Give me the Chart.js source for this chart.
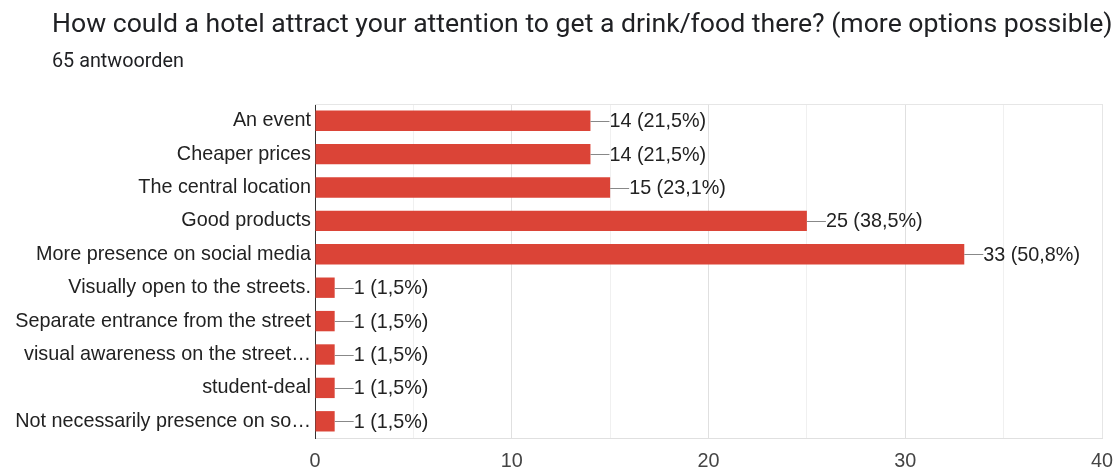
<!DOCTYPE html>
<html>
<head>
<meta charset="utf-8">
<script src="https://cdn.jsdelivr.net/npm/chart.js@4"></script>
<style>
  html, body { margin: 0; padding: 0; background: #fff; }
  #wrap { position: relative; width: 1120px; height: 471px; }
  #title { position: absolute; left: 52px; top: 10px; font: 26.6px/26px Roboto, "Noto Sans", sans-serif; color: #202124; white-space: nowrap; }
  #subtitle { position: absolute; left: 52px; top: 51px; font: 19.8px/20px Roboto, "Noto Sans", sans-serif; color: #202124; white-space: nowrap; }
  canvas { position: absolute; left: 0; top: 0; }
</style>
</head>
<body>
<div id="wrap">
  <canvas id="grafico" width="1120" height="471"></canvas>
  <div id="title">How could a hotel attract your attention to get a drink/food there? (more options possible)</div>
  <div id="subtitle">65 antwoorden</div>
</div>
<script>
const respondents = 65;
const categories = [
  "An event",
  "Cheaper prices",
  "The central location",
  "Good products",
  "More presence on social media",
  "Visually open to the streets.",
  "Separate entrance from the street",
  "visual awareness on the street\u2026",
  "student-deal",
  "Not necessarily presence on so\u2026"
];
const counts = [14, 14, 15, 25, 33, 1, 1, 1, 1, 1];
const xTicks = [0, 10, 20, 30, 40];

const labelFont = { family: "'Liberation Sans', Arial, sans-serif", size: 19.8 };

// kader rond het plotgebied (boven en rechts lichtgrijs)
const plotFrame = {
  id: "plotFrame",
  beforeDatasetsDraw(chart) {
    const a = chart.chartArea;
    const ctx = chart.ctx;
    ctx.save();
    ctx.strokeStyle = "#e6e6e6";
    ctx.lineWidth = 1;
    ctx.beginPath();
    ctx.moveTo(a.left, Math.round(a.top) + 0.5);
    ctx.lineTo(Math.round(a.right) + 0.5, Math.round(a.top) + 0.5);
    ctx.lineTo(Math.round(a.right) + 0.5, a.bottom);
    ctx.stroke();
    ctx.restore();
  }
};

// label met lijntje achter elke balk
const valueLabels = {
  id: "valueLabels",
  afterDatasetsDraw(chart) {
    const ctx = chart.ctx;
    const meta = chart.getDatasetMeta(0);
    ctx.save();
    ctx.font = labelFont.size + "px " + labelFont.family;
    ctx.textBaseline = "middle";
    ctx.textAlign = "left";
    meta.data.forEach((bar, i) => {
      const v = counts[i];
      const pct = (v / respondents * 100).toFixed(1).replace(".", ",");
      const y = Math.round(bar.y) + 0.5;
      ctx.strokeStyle = "#888";
      ctx.lineWidth = 1;
      ctx.beginPath();
      ctx.moveTo(bar.x, y);
      ctx.lineTo(bar.x + 19, y);
      ctx.stroke();
      ctx.fillStyle = "#222";
      ctx.fillText(v + " (" + pct + "%)", bar.x + 19, bar.y + 1);
    });
    ctx.restore();
  }
};

const ctx = document.getElementById("grafico").getContext("2d");
new Chart(ctx, {
  type: "bar",
  data: {
    labels: categories,
    datasets: [{
      data: counts,
      backgroundColor: "#db4437",
      barPercentage: 0.61,
      categoryPercentage: 1.0
    }]
  },
  options: {
    indexAxis: "y",
    responsive: false,
    animation: false,
    layout: { padding: { top: 104, right: 18, bottom: 0, left: 0 } },
    plugins: { legend: { display: false }, tooltip: { enabled: false } },
    scales: {
      x: {
        min: 0,
        max: 40,
        ticks: {
          stepSize: 5,
          color: "#444",
          font: labelFont,
          padding: 12,
          maxRotation: 0,
          callback: (v) => (xTicks.includes(v) ? v : "")
        },
        grid: {
          color: (c) => (c.tick && c.tick.value % 10 === 0 ? "#e0e0e0" : "#f0f0f0"),
          drawTicks: false
        },
        border: { color: "#e0e0e0" },
        afterFit: (scale) => {
          scale.height = 33;
          scale.paddingLeft = 0;
          scale.paddingRight = 0;
        }
      },
      y: {
        ticks: { color: "#222", font: labelFont, padding: 4, autoSkip: false },
        grid: { display: false, drawTicks: false },
        border: { color: "#333", width: 1 },
        afterFit: (scale) => { scale.width = 315; }
      }
    }
  },
  plugins: [plotFrame, valueLabels]
});
</script>
</body>
</html>
